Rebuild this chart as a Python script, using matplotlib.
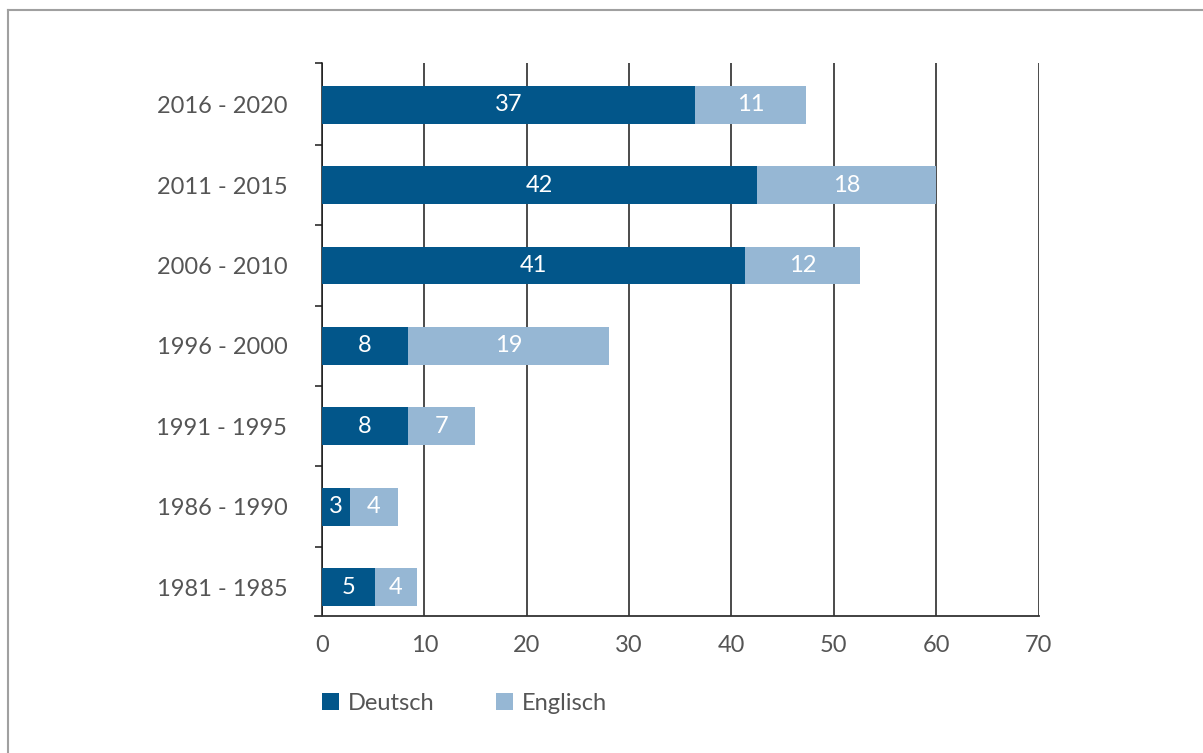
import matplotlib
matplotlib.use("Agg")
import matplotlib.pyplot as plt
from matplotlib.patches import Patch
from matplotlib.lines import Line2D

# ---- data (top to bottom) ----
categories = ["2016 - 2020", "2011 - 2015", "2006 - 2010", "1996 - 2000",
              "1991 - 1995", "1986 - 1990", "1981 - 1985"]
deutsch = [36.4, 42.5, 41.3, 8.4, 8.4, 2.7, 5.15]
englisch = [10.9, 17.5, 11.3, 19.6, 6.55, 4.7, 4.1]
deutsch_labels = ["37", "42", "41", "8", "8", "3", "5"]
englisch_labels = ["11", "18", "12", "19", "7", "4", "4"]
series_names = ["Deutsch", "Englisch"]
x_ticks = [0, 10, 20, 30, 40, 50, 60, 70]

DARK = "#02568A"
LIGHT = "#96B7D4"
TEXT = "#555555"
FONT = "Lato"

fig = plt.figure(figsize=(12.03, 7.53), dpi=100)
W, H = 1203, 753
ax = fig.add_axes([322 / W, 1 - 616 / H, (1038.5 - 322) / W, (616 - 63) / H])

n = len(categories)
ypos = list(range(n))[::-1]  # top category at highest y
bh = 0.47
ax.barh(ypos, deutsch, height=bh, color=DARK, zorder=3)
ax.barh(ypos, englisch, left=deutsch, height=bh, color=LIGHT, zorder=3)

for y, d, e, dl, el in zip(ypos, deutsch, englisch, deutsch_labels, englisch_labels):
    ax.text(d / 2, y, dl, ha="center", va="center", color="white",
            fontsize=17, family=FONT, zorder=4)
    ax.text(d + e / 2, y, el, ha="center", va="center", color="white",
            fontsize=17, family=FONT, zorder=4)

ax.set_xlim(0, 70)
ax.set_ylim(-0.36, n - 0.48)
ax.set_xticks(x_ticks)
ax.set_xticklabels([str(t) for t in x_ticks], family=FONT, fontsize=17, color=TEXT)
ax.tick_params(axis="x", length=0, pad=14)
ax.grid(axis="x", color="#1a1a1a", linewidth=1.1, zorder=1)

ax.set_yticks(ypos)
ax.set_yticklabels(categories, family=FONT, fontsize=17, color=TEXT)
ax.tick_params(axis="y", which="major", length=0, pad=25)
ax.set_yticks([i + 0.5 for i in range(n - 1)] + [n - 0.48], minor=True)
ax.tick_params(axis="y", which="minor", length=5, width=1.1, color="#1a1a1a", direction="out")

for s in ["top", "right"]:
    ax.spines[s].set_visible(False)
ax.spines["left"].set_color("#1a1a1a")
ax.spines["left"].set_linewidth(1.1)
ax.spines["bottom"].set_color("#333333")
ax.spines["bottom"].set_linewidth(1.3)
ax.spines["bottom"].set_bounds(-0.7, 70)

# legend
handles = [Patch(facecolor=DARK, edgecolor="none"), Patch(facecolor=LIGHT, edgecolor="none")]
leg = fig.legend(handles, series_names, loc="center left",
                 bbox_to_anchor=(301 / W, 1 - 703 / H), ncol=2, frameon=False,
                 prop={"family": FONT, "size": 17}, handlelength=0.7, handleheight=0.7,
                 handletextpad=0.4, columnspacing=2.6)
for t in leg.get_texts():
    t.set_color(TEXT)

# outer frame: top and left grey lines
fig.add_artist(Line2D([8 / W, 8 / W], [0, 1 - 9.5 / H], transform=fig.transFigure,
                      color="#a0a0a0", linewidth=1.5))
fig.add_artist(Line2D([8 / W, 1], [1 - 9.5 / H, 1 - 9.5 / H], transform=fig.transFigure,
                      color="#a0a0a0", linewidth=1.5))

fig.savefig("out.png", dpi=100, facecolor="white")
